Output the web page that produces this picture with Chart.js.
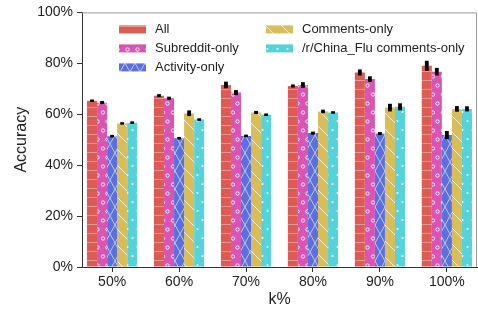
<!DOCTYPE html>
<html>
<head>
<meta charset="utf-8">
<script src="https://cdn.jsdelivr.net/npm/chart.js@4/dist/chart.umd.min.js"></script>
<style>
    html, body { margin: 0; padding: 0; background: #fff; }
    #wrap { width: 478px; height: 310px; }
</style>
</head>
<body>
<div id="wrap"><canvas id="myChart" width="478" height="310"></canvas></div>
<script>
// categories (k%)
var kLabels = ['50%', '60%', '70%', '80%', '90%', '100%'];

// series names
var seriesNames = ['All', 'Subreddit-only', 'Activity-only', 'Comments-only', '/r/China_Flu comments-only'];

// accuracy values (%)
var allAcc       = [65.3, 67.3, 71.5, 71.1, 76.4, 79.0];
var subredditAcc = [64.6, 66.3, 68.5, 71.5, 73.8, 76.7];
var activityAcc  = [51.4, 50.6, 51.5, 52.6, 52.4, 51.8];
var commentsAcc  = [56.4, 60.4, 60.7, 61.1, 62.6, 62.1];
var chinaFluAcc  = [56.7, 57.9, 59.8, 60.7, 62.9, 62.1];

// error half-widths (%)
var allErr       = [0.5, 0.6, 1.3, 0.6, 1.2, 2.0];
var subredditErr = [0.6, 0.6, 1.0, 1.1, 1.1, 1.5];
var activityErr  = [0.5, 0.4, 0.4, 0.6, 0.6, 1.6];
var commentsErr  = [0.4, 1.1, 0.6, 0.7, 1.5, 1.1];
var chinaFluErr  = [0.5, 0.5, 0.4, 0.4, 1.4, 1.0];

// y tick values
var yTicks = [0, 20, 40, 60, 80, 100];

var fontFamily = "'Liberation Sans', Arial, Helvetica, sans-serif";
var textColor = '#222';

// --- fill patterns for the bars ---
function makePattern(w, h, color, drawFn) {
    var c = document.createElement('canvas');
    c.width = w;
    c.height = h;
    var p = c.getContext('2d');
    p.fillStyle = color;
    p.fillRect(0, 0, w, h);
    drawFn(p, w, h);
    return document.getElementById('myChart').getContext('2d').createPattern(c, 'repeat');
}

var redPattern = makePattern(10, 9, '#dc5b54', function(p, w, h) {
    p.fillStyle = 'rgba(255,255,255,0.35)';
    p.fillRect(0, h - 1, w, 1);
});

var pinkPattern = makePattern(10, 18, '#d955b4', function(p) {
    p.strokeStyle = 'rgba(255,255,255,0.9)';
    p.lineWidth = 0.9;
    p.beginPath(); p.arc(3, 4.5, 1.7, 0, Math.PI * 2); p.stroke();
    p.beginPath(); p.arc(7.5, 13.5, 1.7, 0, Math.PI * 2); p.stroke();
});

var bluePattern = makePattern(10, 18, '#5a70df', function(p, w, h) {
    p.strokeStyle = 'rgba(255,255,255,0.75)';
    p.lineWidth = 0.8;
    p.beginPath();
    p.moveTo(0, 0); p.lineTo(w, h);
    p.moveTo(w, 0); p.lineTo(0, h);
    p.stroke();
});

var yellowPattern = makePattern(16, 16, '#d9bd58', function(p, w, h) {
    p.strokeStyle = 'rgba(255,255,255,0.8)';
    p.lineWidth = 0.9;
    p.beginPath();
    p.moveTo(0, 0); p.lineTo(w, h);
    p.moveTo(-2, h - 2); p.lineTo(2, h + 2);
    p.moveTo(w - 2, -2); p.lineTo(w + 2, 2);
    p.stroke();
});

var cyanPattern = makePattern(10, 18, '#56d3da', function(p) {
    p.fillStyle = 'rgba(255,255,255,0.95)';
    p.beginPath(); p.arc(2.5, 4, 1, 0, Math.PI * 2); p.fill();
    p.beginPath(); p.arc(7.5, 13, 1, 0, Math.PI * 2); p.fill();
});

function toPoints(values) {
    return values.map(function(v, i) { return { x: i, y: v }; });
}

var seriesValues = [allAcc, subredditAcc, activityAcc, commentsAcc, chinaFluAcc];
var seriesErrors = [allErr, subredditErr, activityErr, commentsErr, chinaFluErr];
var seriesFills = [redPattern, pinkPattern, bluePattern, yellowPattern, cyanPattern];

var datasets = [];
for (var i = 0; i < seriesNames.length; i++) {
    datasets.push({
        label: seriesNames[i],
        data: toPoints(seriesValues[i]),
        errors: seriesErrors[i],
        backgroundColor: seriesFills[i],
        borderWidth: 0,
        categoryPercentage: 0.75,
        barPercentage: 1.0
    });
}

// error bars (black thick segments)
var errorBarPlugin = {
    id: 'errorBars',
    afterDatasetsDraw: function(chart) {
        var ctx = chart.ctx;
        var yScale = chart.scales.y;
        ctx.save();
        ctx.fillStyle = '#000';
        chart.data.datasets.forEach(function(ds, di) {
            var meta = chart.getDatasetMeta(di);
            meta.data.forEach(function(bar, j) {
                var v = ds.data[j].y;
                var e = ds.errors[j];
                var yTop = yScale.getPixelForValue(v + e);
                var yBot = yScale.getPixelForValue(v - e);
                var hgt = Math.max(yBot - yTop, 2.5);
                ctx.fillRect(bar.x - 1.9, (yTop + yBot) / 2 - hgt / 2, 3.8, hgt);
            });
        });
        ctx.restore();
    }
};

// panel border: gray top/right lines
var boxPlugin = {
    id: 'panelBox',
    afterDraw: function(chart) {
        var a = chart.chartArea;
        var ctx = chart.ctx;
        ctx.save();
        ctx.strokeStyle = '#999';
        ctx.lineWidth = 1;
        ctx.beginPath();
        ctx.moveTo(a.left, a.top + 0.5);
        ctx.lineTo(a.right - 0.5, a.top + 0.5);
        ctx.lineTo(a.right - 0.5, a.bottom);
        ctx.stroke();
        ctx.restore();
    }
};

// legend in two columns inside the panel
var legendPlugin = {
    id: 'colLegend',
    afterDraw: function(chart) {
        var a = chart.chartArea;
        var ctx = chart.ctx;
        ctx.save();
        ctx.font = '13px ' + fontFamily;
        ctx.textBaseline = 'middle';
        ctx.textAlign = 'left';
        chart.data.datasets.forEach(function(ds, i) {
            var col = i < 3 ? 0 : 1;
            var row = i % 3;
            var bx = a.left + (col === 0 ? 37 : 184);
            var by = a.top + 17 + row * 19;
            ctx.fillStyle = ds.backgroundColor;
            ctx.fillRect(bx, by - 4, 27, 8);
            ctx.fillStyle = textColor;
            ctx.fillText(ds.label, bx + 36, by);
        });
        ctx.restore();
    }
};

var ctx = document.getElementById('myChart').getContext('2d');
var myChart = new Chart(ctx, {
    type: 'bar',
    data: { datasets: datasets },
    options: {
        responsive: false,
        animation: false,
        layout: { padding: { top: 10, right: 1, left: 0, bottom: 0 } },
        plugins: {
            legend: { display: false },
            tooltip: { enabled: false }
        },
        scales: {
            x: {
                type: 'linear',
                min: -0.45,
                max: 5.45,
                offset: false,
                afterFit: function(scale) { scale.height = 43; },
                afterBuildTicks: function(scale) {
                    scale.ticks = kLabels.map(function(_, i) { return { value: i }; });
                },
                ticks: {
                    callback: function(v) { return kLabels[v]; },
                    font: { size: 14, family: fontFamily },
                    color: textColor,
                    padding: 2,
                    maxRotation: 0
                },
                grid: { offset: false, drawOnChartArea: false, tickLength: 5, color: '#333' },
                border: { display: true, color: '#333', width: 1 },
                title: {
                    display: true,
                    text: 'k%',
                    font: { size: 16, family: fontFamily },
                    color: textColor,
                    padding: { top: 0, bottom: 1 }
                }
            },
            y: {
                min: 0,
                max: 100,
                afterFit: function(scale) { scale.width = 82; },
                afterBuildTicks: function(scale) {
                    scale.ticks = yTicks.map(function(v) { return { value: v }; });
                },
                ticks: {
                    callback: function(v) { return v + '%'; },
                    font: { size: 14, family: fontFamily },
                    color: textColor,
                    padding: 4
                },
                grid: { drawOnChartArea: false, tickLength: 5, color: '#333' },
                border: { display: true, color: '#333', width: 1 },
                title: {
                    display: true,
                    text: 'Accuracy',
                    font: { size: 16, family: fontFamily },
                    color: textColor,
                    padding: { top: 12, bottom: 0 }
                }
            }
        }
    },
    plugins: [errorBarPlugin, boxPlugin, legendPlugin]
});
</script>
</body>
</html>
